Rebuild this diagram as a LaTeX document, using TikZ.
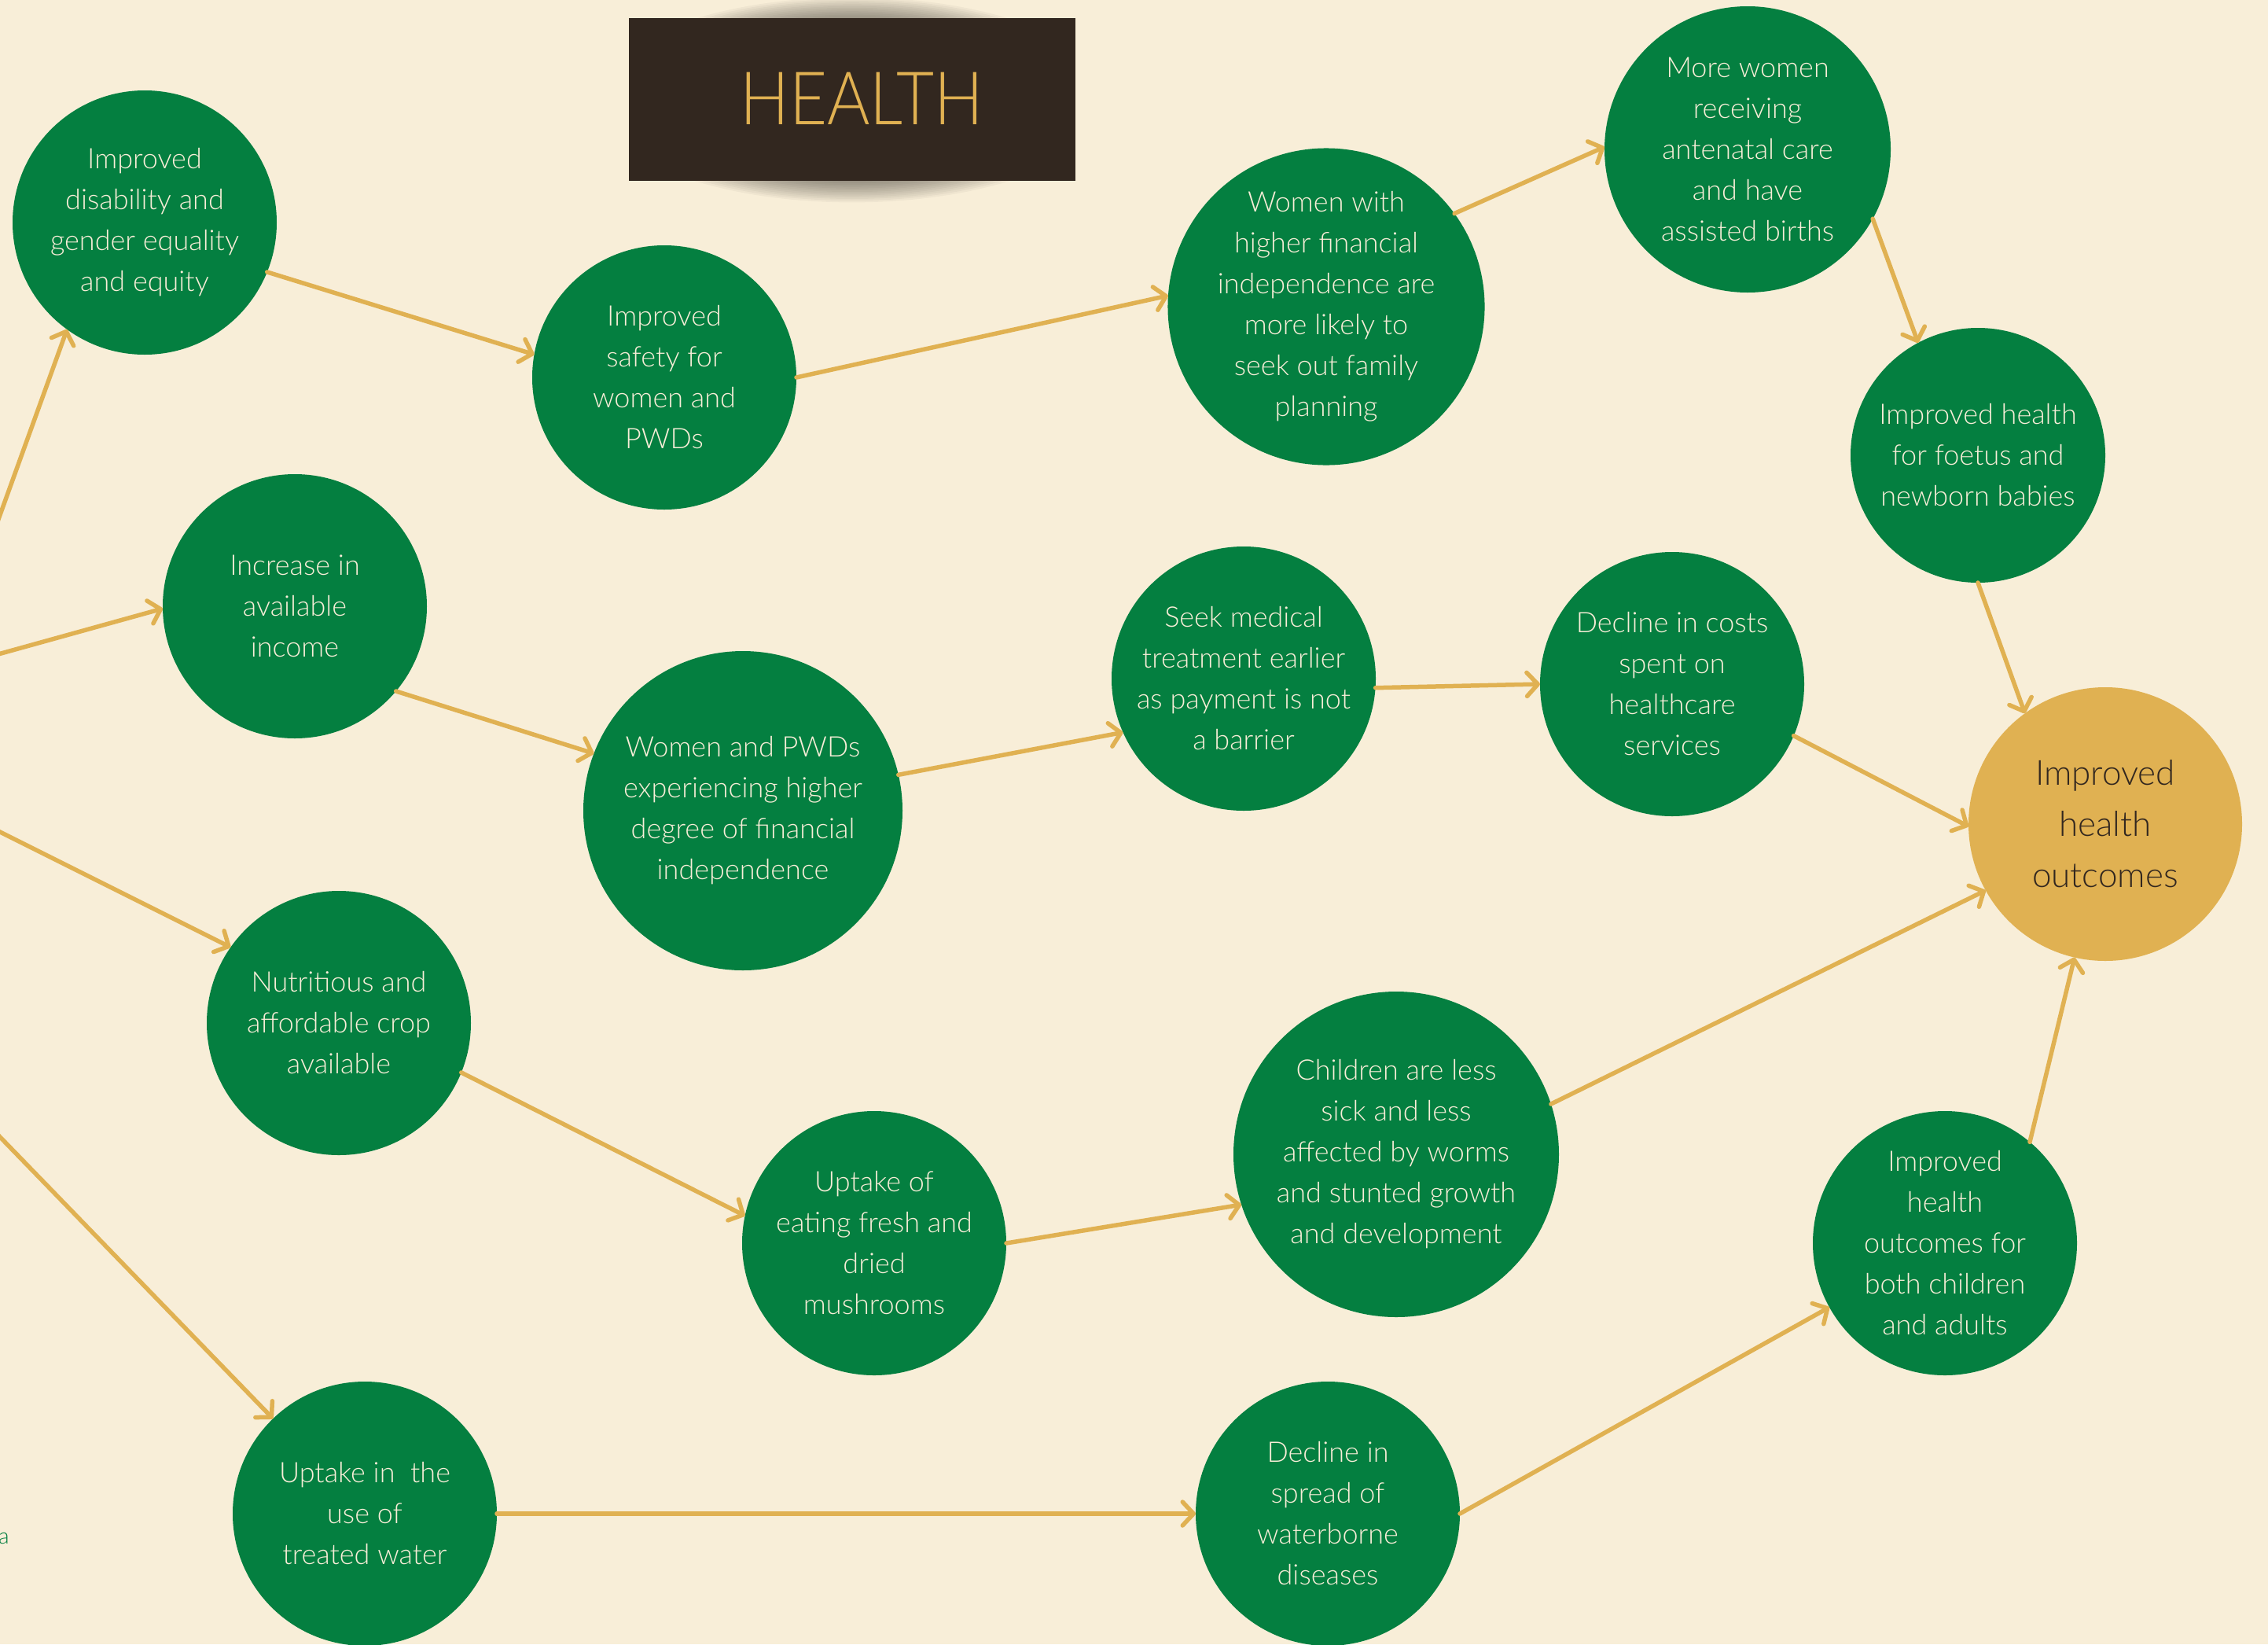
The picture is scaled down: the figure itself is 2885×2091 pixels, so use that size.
\documentclass[tikz,border=0pt]{standalone}
\usepackage{fontspec}
\setmainfont{Lato Light}
\usetikzlibrary{arrows.meta}
\definecolor{bgc}{HTML}{F8EED8}
\definecolor{grn}{HTML}{047F40}
\definecolor{gld}{HTML}{E0B152}
\definecolor{drk}{HTML}{32271F}
\begin{document}
\begin{tikzpicture}[x=1pt,y=-1pt,
  gnode/.style={circle, fill=grn, text=bgc, inner sep=0pt, outer sep=0pt, align=center,
    font=\fontsize{36}{52}\selectfont, minimum size=#1},
  gnode/.default=336pt,
  onode/.style={circle, fill=gld, text=drk, inner sep=0pt, outer sep=0pt, align=center,
    font=\fontsize{44}{65}\selectfont, minimum size=348pt},
  arr/.style={draw=gld, line width=5.5pt, line cap=round,
    -{Straight Barb[length=14pt,width=30pt,round]}},
]
\useasboundingbox (0,0) rectangle (2885,2091);
\fill[bgc] (0,0) rectangle (2885,2091);
\clip (0,0) rectangle (2885,2091);

% title shadow
\begin{scope}
  \clip (820,0) rectangle (1350,300);
  \foreach \k in {0,...,12}{
    \fill[black, opacity=0.035] (1084,127) ellipse ({255+6*\k} and {104+2.2*\k});
  }
\end{scope}
\node[fill=drk, minimum width=568pt, minimum height=207pt, inner sep=0pt, text=gld,
  font=\fontsize{83}{90}\selectfont] (title) at (1084,126.5)
  {\hspace*{25pt}\raisebox{3pt}{\scalebox{1}[1.13]{HEALTH}}};

% nodes
\node[gnode] (n1) at (184,283) {Improved\\disability and\\gender equality\\and equity};
\node[gnode] (n2) at (845,480) {Improved\\safety for\\women and\\PWDs};
\node[gnode=400pt] (n3) at (1687,390) {Women with\\higher financial\\independence are\\more likely to\\seek out family\\planning};
\node[gnode=364pt] (n4) at (2223,190) {More women\\receiving\\antenatal care\\and have\\assisted births};
\node[gnode=324pt] (n5) at (2516,579) {Improved health\\for foetus and\\newborn babies};
\node[gnode] (n6) at (375,771) {Increase in\\available\\income};
\node[gnode=406pt] (n7) at (945,1031) {Women and PWDs\\experiencing higher\\degree of financial\\independence};
\node[gnode] (n8) at (1582,863) {Seek medical\\treatment earlier\\as payment is not\\a barrier};
\node[gnode] (n9) at (2127,870) {Decline in costs\\spent on\\healthcare\\services};
\node[onode] (n10) at (2678,1048) {Improved\\health\\outcomes};
\node[gnode] (n11) at (431,1301) {Nutritious and\\affordable crop\\available};
\node[gnode] (n12) at (1112,1581) {Uptake of\\eating fresh and\\dried\\mushrooms};
\node[gnode=414pt] (n13) at (1776,1468) {Children are less\\sick and less\\affected by worms\\and stunted growth\\and development};
\node[gnode] (n14) at (2474,1581) {Improved\\health\\outcomes for\\both children\\and adults};
\node[gnode] (n15) at (464,1925) {Uptake in\ \ the\\use of\\treated water};
\node[gnode] (n16) at (1689,1925) {Decline in\\spread of\\waterborne\\diseases};

\node[text=grn, anchor=base east, inner sep=0pt, font=\fontsize{28}{32}\selectfont] (aa) at (12,1963) {a};

% off-canvas sources
\coordinate (s1) at (-60,821);
\coordinate (s2) at (-60,848);
\coordinate (s3) at (-60,1028);
\coordinate (s4) at (-60,1384);

% connectors
\draw[arr] (s1) -- (n1.234);
\draw[arr] (s2) -- (n6.181);
\draw[arr] (s3) -- (n11.145);
\draw[arr] (s4) -- (n15.134);

\draw[arr] (n1.338) -- (n2.170);
\draw[arr] (n2.0) -- (n3.176);
\draw[arr] (n3.36) -- (n4.179);
\draw[arr] (n4.331) -- (n5.118.6);
\draw[arr] (n5.270) -- (n10.126.3);
\draw[arr] (n6.320) -- (n7.159.8);
\draw[arr] (n7.13.9) -- (n8.204.9);
\draw[arr] (n8.356) -- (n9.180);
\draw[arr] (n9.337) -- (n10.181);
\draw[arr] (n11.338) -- (n12.168);
\draw[arr] (n12.0.6) -- (n13.198);
\draw[arr] (n13.18) -- (n10.209.8);
\draw[arr] (n15.0) -- (n16.180);
\draw[arr] (n16.0) -- (n14.209.4);
\draw[arr] (n14.50.4) -- (n10.257.5);
\end{tikzpicture}
\end{document}
